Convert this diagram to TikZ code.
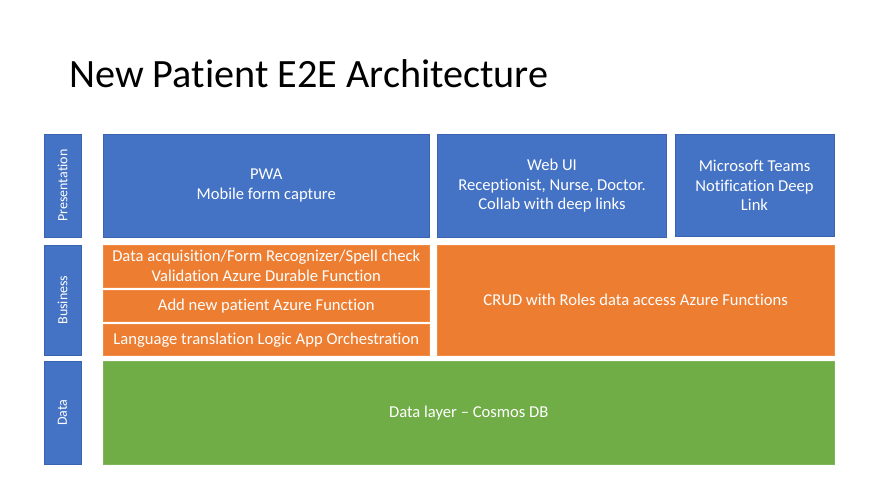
\documentclass[tikz,border=0pt]{standalone}
\usepackage{fontspec}
\setmainfont[RawFeature=-liga]{Carlito}
\definecolor{pblue}{HTML}{4472C4}
\definecolor{pblueb}{HTML}{3A64B0}
\definecolor{porange}{HTML}{ED7D31}
\definecolor{porangeb}{HTML}{F08A45}
\definecolor{pgreen}{HTML}{70AD47}
\definecolor{pgreenb}{HTML}{7DB658}
\tikzset{
  box/.style={inner sep=0pt, outer sep=0pt, align=center, text=white,
    font=\fontsize{16.6}{19.8}\selectfont, line width=0.6pt},
  bluebox/.style={box, fill=pblue, draw=pblueb},
  orangebox/.style={box, fill=porange, draw=porangeb},
  greenbox/.style={box, fill=pgreen, draw=pgreenb},
  layerlabel/.style={bluebox},
  layertext/.style={rotate=90, text=white, inner sep=0pt, font=\fontsize{14}{16}\selectfont},
}
\begin{document}
\begin{tikzpicture}[x=1pt,y=-1pt]
\useasboundingbox (0,0) rectangle (889,500);
\node[anchor=base west, inner sep=0pt, font=\fontsize{40.2}{46}\selectfont] (title) at (69,87.7) {New Patient E2E Architecture};
% layer labels
\node[layerlabel, minimum width=37pt, minimum height=103pt] (presL) at (62.5,185.5) {};
\node[layertext] at (presL.center) {Presentation};
\node[layerlabel, minimum width=37pt, minimum height=110pt] (busL) at (62.5,300) {};
\node[layertext] at (busL.center) {Business};
\node[layerlabel, minimum width=37pt, minimum height=102.5pt] (dataL) at (62.5,412.75) {};
\node[layertext] at (dataL.center) {Data};
% presentation
\node[bluebox, minimum width=325.5pt, minimum height=103.5pt] (pwa) at (266.25,185.75) {PWA\\Mobile form capture};
\node[bluebox, minimum width=229.4pt, minimum height=103.3pt] (webui) at (552,185.65) {Web UI\\Receptionist, Nurse, Doctor.\\Collab with deep links};
\node[bluebox, minimum width=159pt, minimum height=102.7pt] (teams) at (754.5,185.35) {Microsoft Teams\\Notification Deep\\Link};
% business
\node[orangebox, minimum width=325.5pt, minimum height=42.3pt] (b1) at (266.25,266.15) {Data acquisition/Form Recognizer/Spell check\\Validation Azure Durable Function};
\node[orangebox, minimum width=325.5pt, minimum height=30.6pt] (b2) at (266.25,306) {Add new patient Azure Function};
\node[orangebox, minimum width=325.5pt, minimum height=30.3pt] (b3) at (266.25,339.85) {Language translation Logic App Orchestration};
\node[orangebox, minimum width=396.7pt, minimum height=110pt] (crud) at (635.65,300) {CRUD with Roles data access Azure Functions};
% data
\node[greenbox, minimum width=730.5pt, minimum height=102.5pt] (data) at (468.75,412.75) {Data layer -- Cosmos DB};
\end{tikzpicture}
\end{document}
